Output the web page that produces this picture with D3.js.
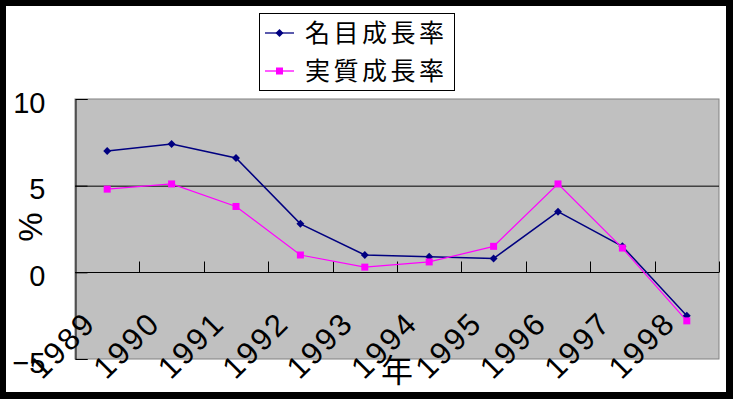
<!DOCTYPE html>
<html>
<head>
<meta charset="utf-8">
<script src="https://cdn.jsdelivr.net/npm/d3@7"></script>
<style>
  body { margin: 0; background: #000; }
  svg { display: block; }
  text { font-family: "Liberation Sans", "Noto Sans CJK JP", sans-serif; fill: #000; }
</style>
</head>
<body>
<script>
// data
const years = ['1989', '1990', '1991', '1992', '1993', '1994', '1995', '1996', '1997', '1998'];
const nominal = [7.0, 7.4, 6.6, 2.8, 1.0, 0.9, 0.8, 3.5, 1.5, -2.5];
const real = [4.8, 5.1, 3.8, 1.0, 0.3, 0.6, 1.5, 5.1, 1.4, -2.8];
const yTicks = [-5, 0, 5, 10];
const seriesNames = ['名目成長率', '実質成長率'];

const W = 733, H = 399;
const plot = { left: 75, right: 719, top: 99, bottom: 359 };

const svg = d3.select('body').append('svg')
  .attr('width', W)
  .attr('height', H);

// white chart area inside black frame
svg.append('rect')
  .attr('x', 6).attr('y', 6)
  .attr('width', 720).attr('height', 386)
  .attr('fill', '#fff');

const x = d3.scaleBand()
  .domain(years)
  .range([plot.left, plot.right]);

const y = d3.scaleLinear()
  .domain([-5, 10])
  .range([plot.bottom, plot.top]);

// plot background
svg.append('rect')
  .attr('x', plot.left).attr('y', plot.top)
  .attr('width', plot.right - plot.left)
  .attr('height', plot.bottom - plot.top)
  .attr('fill', '#c0c0c0')
  .attr('stroke', '#808080')
  .attr('stroke-width', 1);

// gridline at 5
svg.append('line')
  .attr('x1', plot.left).attr('x2', plot.right)
  .attr('y1', y(5) + 0.5).attr('y2', y(5) + 0.5)
  .attr('stroke', '#000');

// y axis
const yAxis = svg.append('g')
  .attr('transform', `translate(${plot.left + 0.5},0)`)
  .call(d3.axisLeft(y).tickValues(yTicks).tickSize(-12).tickPadding(30).tickFormat(d3.format('d')));
yAxis.select('.domain').attr('stroke', '#000');
yAxis.selectAll('.tick line').attr('stroke', '#000');
yAxis.selectAll('.tick text')
  .attr('font-size', 29)
  .attr('dy', '0.45em')
  .text(d => d < 0 ? '\u2212' + Math.abs(d) : d);

// x axis at zero
const zeroY = Math.round(y(0)) + 0.5;
svg.append('line')
  .attr('x1', plot.left).attr('x2', plot.right)
  .attr('y1', zeroY).attr('y2', zeroY)
  .attr('stroke', '#000');

svg.append('g').selectAll('line')
  .data(years)
  .join('line')
  .attr('x1', d => Math.round(x(d) + x.bandwidth()) + 0.5)
  .attr('x2', d => Math.round(x(d) + x.bandwidth()) + 0.5)
  .attr('y1', zeroY)
  .attr('y2', zeroY - 11)
  .attr('stroke', '#000');

// rotated year labels
svg.append('g').selectAll('text')
  .data(years)
  .join('text')
  .attr('transform', d => `translate(${x(d) + x.bandwidth() / 2 - 45},${345}) rotate(-45)`)
  .attr('text-anchor', 'middle')
  .attr('dy', '0.35em')
  .attr('font-size', 31)
  .attr('letter-spacing', 2.5)
  .text(d => d);

// axis titles
svg.append('text')
  .attr('transform', 'translate(30,227) rotate(-90)')
  .attr('text-anchor', 'middle')
  .attr('dy', '0.35em')
  .attr('font-size', 33)
  .text('%');

svg.append('text')
  .attr('x', 397).attr('y', 370)
  .attr('text-anchor', 'middle')
  .attr('dy', '0.38em')
  .attr('font-size', 32)
  .text('年');

// series
const line = d3.line()
  .x((d, i) => x(years[i]) + x.bandwidth() / 2)
  .y(d => y(d));

svg.append('path')
  .datum(nominal)
  .attr('d', line)
  .attr('fill', 'none')
  .attr('stroke', '#000080')
  .attr('stroke-width', 1.5);

svg.append('path')
  .datum(real)
  .attr('d', line)
  .attr('fill', 'none')
  .attr('stroke', '#ff00ff')
  .attr('stroke-width', 1.2);

const diamond = d3.symbol().type(d3.symbolDiamond2).size(40);

svg.append('g').selectAll('path')
  .data(nominal)
  .join('path')
  .attr('transform', (d, i) => `translate(${x(years[i]) + x.bandwidth() / 2},${y(d)})`)
  .attr('d', diamond)
  .attr('fill', '#000080');

svg.append('g').selectAll('rect')
  .data(real)
  .join('rect')
  .attr('x', (d, i) => x(years[i]) + x.bandwidth() / 2 - 3.5)
  .attr('y', d => y(d) - 3.5)
  .attr('width', 7).attr('height', 7)
  .attr('fill', '#ff00ff');

// legend
const legend = svg.append('g');
legend.append('rect')
  .attr('x', 259.5).attr('y', 13.5)
  .attr('width', 195).attr('height', 77)
  .attr('fill', '#fff')
  .attr('stroke', '#000');

const legendRows = [
  { name: seriesNames[0], color: '#000080', marker: 'diamond', cy: 33 },
  { name: seriesNames[1], color: '#ff00ff', marker: 'square', cy: 71 }
];

legendRows.forEach(r => {
  legend.append('line')
    .attr('x1', 265).attr('x2', 294)
    .attr('y1', r.cy).attr('y2', r.cy)
    .attr('stroke', r.color)
    .attr('stroke-width', 1.3);
  if (r.marker === 'diamond') {
    legend.append('path')
      .attr('transform', `translate(279.5,${r.cy})`)
      .attr('d', diamond)
      .attr('fill', r.color);
  } else {
    legend.append('rect')
      .attr('x', 276).attr('y', r.cy - 3.5)
      .attr('width', 7).attr('height', 7)
      .attr('fill', r.color);
  }
  legend.append('text')
    .attr('x', 305).attr('y', r.cy)
    .attr('dy', '0.36em')
    .attr('font-size', 25)
    .attr('letter-spacing', 3.5)
    .text(r.name);
});
</script>
</body>
</html>
